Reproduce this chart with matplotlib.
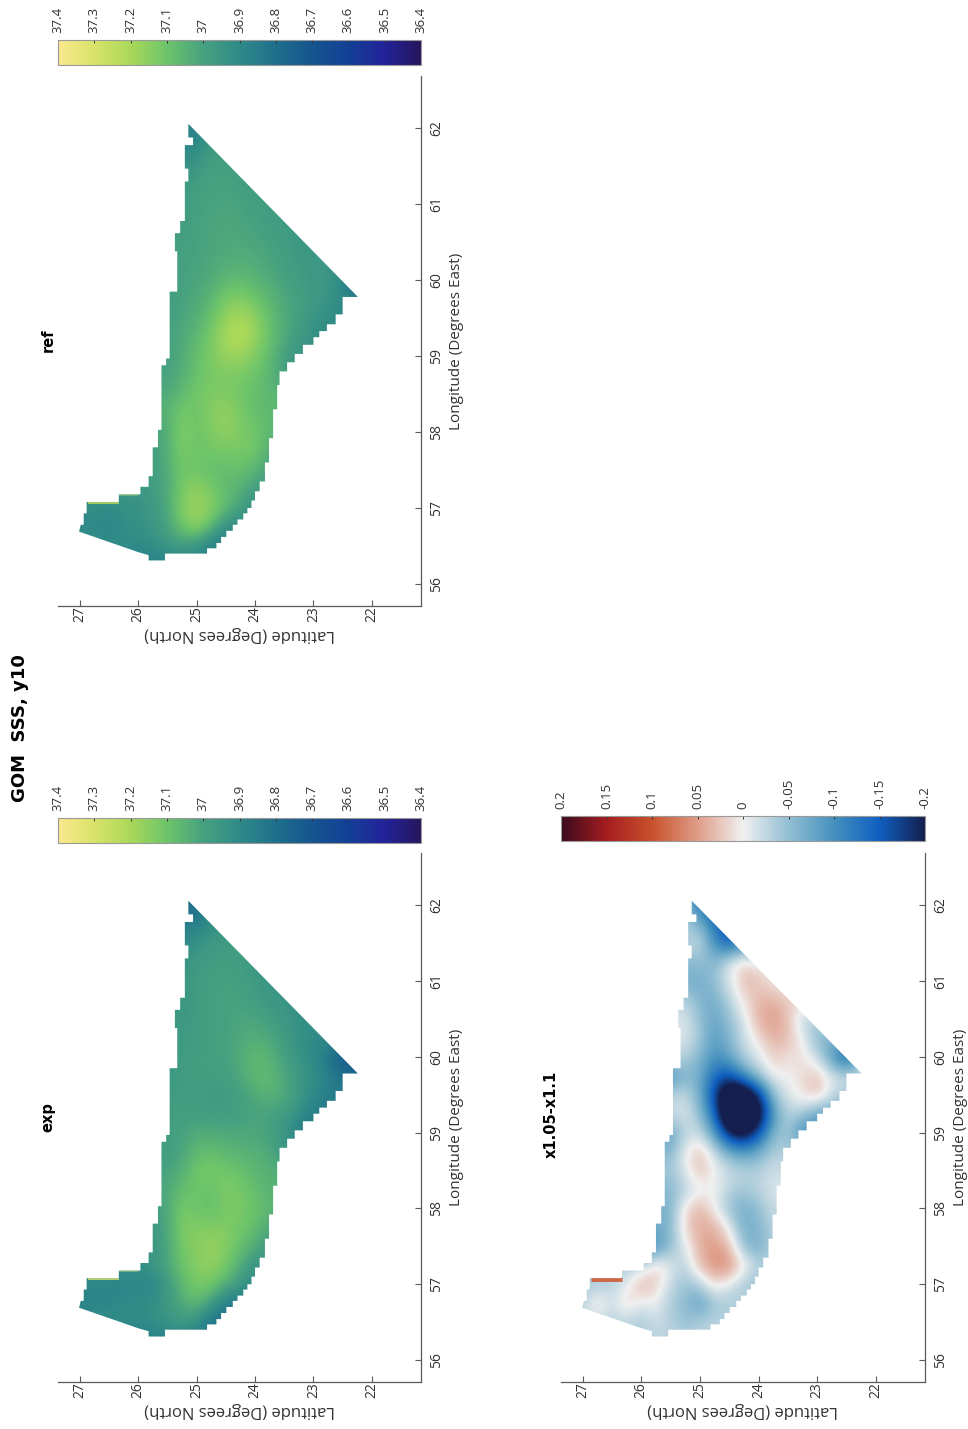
# GOM SSS maps, page is turned 90 degrees so lat runs right-to-left and lon bottom-to-top
import numpy as np
import matplotlib
matplotlib.use('Agg')
import matplotlib.pyplot as plt
from matplotlib.colors import LinearSegmentedColormap, Normalize
from matplotlib.cm import ScalarMappable
from matplotlib.patches import Polygon

W, H = 968, 1429
GRAY = '#5a5a5a'
plt.rcParams['font.family'] = ['Open Sans', 'DejaVu Sans']

lat_ticks = [27, 26, 25, 24, 23, 22]
lon_ticks = [56, 57, 58, 59, 60, 61, 62]

sss_ticks = [37.4, 37.3, 37.2, 37.1, 37.0, 36.9, 36.8, 36.7, 36.6, 36.5, 36.4]
sss_labels = ['37.4', '37.3', '37.2', '37.1', '37', '36.9', '36.8', '36.7', '36.6', '36.5', '36.4']
sss_colors = ['#fbe88e', '#d8e368', '#a9d859', '#6cc46a', '#46a180', '#2f8a88',
              '#1f6f8b', '#15558f', '#134096', '#22229a', '#27155c']

diff_ticks = [0.2, 0.15, 0.1, 0.05, 0, -0.05, -0.1, -0.15, -0.2]
diff_labels = ['0.2', '0.15', '0.1', '0.05', '0', '-0.05', '-0.1', '-0.15', '-0.2']
diff_colors = ['#3a0a1c', '#a51d20', '#c8522c', '#df9c88', '#f0f0f0', '#93bfd3',
               '#4591be', '#0f5fc0', '#141f4f']

# domain outline (lat, lon), walked from the south tip round by the north coast
edge_lat = [22.24, 22.5, 22.5, 22.62, 22.62, 22.77, 22.77, 22.9, 22.9, 23.0, 23.0, 23.18, 23.18, 23.32,
            23.32, 23.45, 23.45, 23.58, 23.58, 23.62, 23.62, 23.69, 23.69, 23.76, 23.76, 23.83, 23.83,
            23.92, 23.92, 24.0, 24.0, 24.06, 24.06, 24.13, 24.13, 24.2, 24.2, 24.3, 24.3, 24.38, 24.38,
            24.49, 24.49, 24.58, 24.58, 24.66, 24.66, 24.82, 24.82, 25.54, 25.54, 25.82, 25.82, 26.0,
            27.01, 26.98, 26.93, 26.93, 26.88, 26.88, 26.33, 26.33, 25.96, 25.96, 25.82, 25.82,
            25.75, 25.75, 25.66, 25.66, 25.6, 25.6, 25.52, 25.52, 25.46, 25.46, 25.33, 25.33,
            25.37, 25.37, 25.28, 25.28, 25.2, 25.2, 25.14, 25.14, 25.2, 25.2, 25.06, 25.06, 25.14, 25.14]
edge_lon = [59.78, 59.78, 59.55, 59.55, 59.42, 59.42, 59.33, 59.33, 59.25, 59.25, 59.15, 59.15, 59.03, 59.03,
            58.92, 58.92, 58.8, 58.8, 58.62, 58.62, 58.3, 58.3, 57.92, 57.92, 57.6, 57.6, 57.35,
            57.35, 57.22, 57.22, 57.1, 57.1, 57.0, 57.0, 56.93, 56.93, 56.85, 56.85, 56.78, 56.78, 56.7,
            56.7, 56.62, 56.62, 56.54, 56.54, 56.47, 56.47, 56.4, 56.4, 56.31, 56.31, 56.38, 56.42,
            56.69, 56.78, 56.78, 56.93, 56.93, 57.08, 57.08, 57.18, 57.18, 57.28, 57.28, 57.42,
            57.42, 57.8, 57.8, 58.03, 58.03, 58.88, 58.88, 58.97, 58.97, 59.85, 59.85, 60.38,
            60.38, 60.62, 60.62, 60.78, 60.78, 61.3, 61.3, 61.47, 61.47, 61.78, 61.78, 61.88, 61.88, 62.06]

# thin bright strip on the north side of the inlet
rim_lat = [26.86, 26.33]
rim_lon = [57.07, 57.07]
rim2_lat = [26.33, 26.0]
rim2_lon = [57.17, 57.17]

grid_lat = [27.0, 26.75, 26.5, 26.25, 26.0, 25.75, 25.5, 25.25, 25.0, 24.75,
            24.5, 24.25, 24.0, 23.75, 23.5, 23.25, 23.0, 22.75, 22.5, 22.25]
grid_lon = [62.0, 61.75, 61.5, 61.25, 61.0, 60.75, 60.5, 60.25, 60.0, 59.75, 59.5, 59.25,
            59.0, 58.75, 58.5, 58.25, 58.0, 57.75, 57.5, 57.25, 57.0, 56.75, 56.5, 56.25]
# which grid_lat column each row below starts at
row_start = [7, 7, 7, 7, 7, 7, 7, 7, 7, 6, 6, 6, 6, 6, 6, 6, 5, 5, 5, 4, 0, 0, 3, 0]

# salinity in hundredths above 36
exp_rows = [
    [82, 78, 88, 92],
    [85, 87, 92, 95],
    [90, 93, 96, 98, 97],
    [94, 97, 98, 99, 98, 96],
    [95, 98, 99, 100, 99, 97, 95],
    [95, 98, 99, 100, 100, 98, 96, 94],
    [96, 98, 99, 100, 101, 101, 99, 96, 92],
    [97, 98, 99, 100, 102, 104, 102, 98, 93, 90],
    [97, 99, 99, 100, 103, 107, 105, 100, 94, 90, 82, 72, 65],
    [96, 98, 99, 99, 99, 102, 107, 107, 102, 96, 92, 87, 80],
    [97, 98, 98, 97, 97, 99, 103, 105, 103, 97, 90, 85],
    [99, 99, 99, 98, 98, 99, 100, 100, 98, 92, 85],
    [98, 100, 103, 103, 102, 102, 102, 100, 95, 85],
    [98, 101, 107, 108, 106, 105, 104, 103, 95],
    [100, 104, 111, 112, 111, 109, 106, 104],
    [102, 108, 110, 109, 113, 112, 108, 105],
    [98, 102, 112, 110, 108, 112, 112, 110, 106],
    [96, 102, 113, 114, 113, 114, 111, 108, 102],
    [95, 101, 112, 114, 118, 114, 109, 103, 97],
    [92, 95, 101, 110, 114, 116, 112, 103, 94],
    [88, 90, 88, 88, 88, 87, 97, 106, 112, 112, 104, 97, 90],
    [86, 88, 88, 90, 91, 92, 96, 103, 108, 98, 85, 82],
    [92, 90, 92, 95, 97, 92, 80],
    [85],
]

ref_rows = [
    [88, 85, 95, 96],
    [90, 90, 97, 98],
    [92, 95, 100, 99, 99],
    [96, 99, 100, 100, 99, 98],
    [97, 100, 100, 101, 100, 99, 97],
    [98, 100, 101, 102, 101, 100, 98, 97],
    [99, 100, 101, 102, 102, 101, 100, 98, 96],
    [100, 100, 102, 103, 104, 103, 101, 99, 97, 96],
    [100, 101, 103, 106, 107, 105, 103, 100, 98, 96, 95, 90, 65],
    [98, 100, 102, 106, 112, 114, 110, 106, 102, 99, 97, 95, 90],
    [99, 101, 104, 109, 117, 120, 116, 108, 103, 99, 95, 90],
    [100, 102, 106, 112, 120, 123, 118, 109, 103, 98, 92],
    [99, 103, 108, 113, 117, 118, 113, 107, 100, 93],
    [100, 104, 109, 112, 113, 112, 110, 106, 98],
    [102, 107, 111, 113, 113, 111, 108, 106],
    [105, 112, 110, 114, 117, 112, 108, 107],
    [100, 103, 114, 110, 113, 116, 113, 111, 106],
    [98, 104, 113, 110, 111, 112, 112, 111, 104],
    [98, 103, 111, 110, 108, 108, 109, 106, 99],
    [96, 98, 102, 112, 116, 112, 107, 105, 98],
    [90, 92, 90, 93, 93, 96, 102, 114, 118, 115, 108, 100, 93],
    [88, 90, 87, 90, 93, 95, 100, 110, 117, 108, 92, 90],
    [92, 90, 92, 96, 98, 95, 85],
    [86],
]

# difference in hundredths
diff_rows = [
    [-6, -12, -16],
    [-4, -6, -13, -17],
    [-3, -2, -10, -15, -10],
    [-6, -5, -6, -1, 2, 0],
    [-7, -7, -5, -1, 3, 3, 0],
    [-3, -6, -7, -3, 1, 3, 4, 2],
    [-1, -5, -8, -5, -1, 4, 5, 3, -3],
    [-1, -4, -9, -6, -2, 1, 4, 3, 0, -6],
    [-3, -6, -10, -8, -3, -1, 2, 1, 1, -2, -9, -16, -4],
    [-10, -6, -7, -14, -16, -10, -4, 0, 0, 1, 3, -1, -2],
    [-3, -2, -7, -17, -28, -28, -19, -5, -1, 1, 3, -2, -4],
    [-2, -1, -5, -14, -30, -30, -24, -9, -3, -4, -8],
    [-8, -3, -2, -9, -20, -23, -16, -6, -4, -11],
    [-6, 0, 3, -2, -7, -9, -7, -3, -4],
    [-4, -1, 3, 0, -2, -3, -3, -2],
    [-6, -3, -1, 0, -3, -4, -3, -1],
    [-7, -6, 1, 4, 0, -5, -7, -5, -2],
    [-7, -6, 2, 4, 4, 0, -7, -6, -3],
    [-10, -5, -1, 4, 5, 3, -5, -7, -3],
    [-3, 2, -1, -3, 3, 6, 6, 1, -3],
    [-4, -4, -3, -1, 4, 2, -2, -5, -3, 1, -1, -4, -5],
    [-3, 2, -2, 2, -1, 0, -4, -5, -9, -4, -4, -3],
    [-3, -4, -2, -3, -5, -3, -3],
    [-3],
]


def to_table(rows):
    # cells outside the domain never show (they get clipped), just repeat the row ends
    table = []
    for start, row in zip(row_start, rows):
        right = len(grid_lat) - start - len(row)
        table.append([row[0]] * start + row + [row[-1]] * right)
    return np.array(table, dtype=float)


sss_cmap = LinearSegmentedColormap.from_list('sss', sss_colors[::-1])
diff_cmap = LinearSegmentedColormap.from_list('diff', diff_colors[::-1])
sss_norm = Normalize(36.4, 37.4)
diff_norm = Normalize(-0.2, 0.2)

fig = plt.figure(figsize=(W / 100, H / 100), dpi=100)


def px_axes(x0, y0, x1, y1):
    return fig.add_axes([x0 / W, 1 - y1 / H, (x1 - x0) / W, (y1 - y0) / H])


def draw_panel(box, cbar_y, field, cmap, norm, rim_val, rim_w, rim2_alpha, title, title_y, ticks, labels):
    ax = px_axes(*box)
    dlat = grid_lat[0] - grid_lat[1]
    dlon = grid_lon[0] - grid_lon[1]
    im = ax.imshow(field, cmap=cmap, norm=norm, origin='upper', aspect='auto', interpolation='bicubic',
                   extent=(grid_lat[0] + dlat / 2, grid_lat[-1] - dlat / 2,
                           grid_lon[-1] - dlon / 2, grid_lon[0] + dlon / 2))
    outline = Polygon(np.column_stack([edge_lat, edge_lon]), closed=True, transform=ax.transData, fc='none', ec='none')
    ax.add_patch(outline)
    im.set_clip_path(outline)
    l1, = ax.plot(rim_lat, rim_lon, color=cmap(norm(rim_val)), lw=rim_w, solid_capstyle='butt')
    l2, = ax.plot(rim2_lat, rim2_lon, color=cmap(norm(rim_val)), lw=rim_w, alpha=rim2_alpha, solid_capstyle='butt')
    l1.set_clip_path(outline)
    l2.set_clip_path(outline)

    ax.set_xlim(27.37, 21.16)
    ax.set_ylim(55.71, 62.69)
    ax.set_xticks(lat_ticks)
    ax.set_yticks(lon_ticks)
    ax.yaxis.tick_right()
    ax.yaxis.set_label_position('right')
    ax.spines['top'].set_visible(False)
    ax.spines['left'].set_visible(False)
    for side in ['bottom', 'right']:
        ax.spines[side].set_color(GRAY)
        ax.spines[side].set_linewidth(0.9)
    ax.tick_params(direction='in', length=4, width=0.8, color=GRAY, labelcolor='#333333', labelsize=10, pad=6)
    for t in ax.get_xticklabels() + ax.get_yticklabels():
        t.set_rotation(90)
        t.set_va('center')
    ax.set_xlabel('Latitude (Degrees North)', rotation=180, fontsize=12, color='#333333', labelpad=3)
    ax.set_ylabel('Longitude (Degrees East)', rotation=90, fontsize=11, color='#333333', labelpad=3)

    cax = px_axes(box[0], cbar_y, box[2], cbar_y + 25)
    cb = fig.colorbar(ScalarMappable(norm=norm, cmap=cmap), cax=cax, orientation='horizontal')
    cax.invert_xaxis()
    cb.set_ticks(ticks)
    cb.set_ticklabels(labels)
    cax.xaxis.tick_top()
    cax.tick_params(direction='in', length=2, width=0.7, color='#333333', labelcolor='#333333', labelsize=9.5, pad=5)
    for t in cax.get_xticklabels():
        t.set_rotation(90)
        t.set_va('bottom')
    cb.outline.set_edgecolor('#999999')
    cb.outline.set_linewidth(0.8)

    fig.text((box[0] - 10) / W, 1 - title_y / H, title, rotation=90, ha='center', va='center',
             fontsize=10.5, fontweight='bold', color='black', family='DejaVu Sans')


draw_panel((58, 853, 421, 1382), 818, 36 + to_table(exp_rows) / 100, sss_cmap, sss_norm, 37.32, 1.1, 0.5,
           'exp', 1117, sss_ticks, sss_labels)
draw_panel((58, 76, 421, 606), 40, 36 + to_table(ref_rows) / 100, sss_cmap, sss_norm, 37.25, 1.1, 0.5,
           'ref', 340, sss_ticks, sss_labels)
draw_panel((561, 853, 925, 1382), 816, to_table(diff_rows) / 100, diff_cmap, diff_norm, 0.085, 3.5, 0,
           'x1.05-x1.1', 1114, diff_ticks, diff_labels)

fig.text(20 / W, 1 - 728 / H, 'GOM  SSS, y10', rotation=90, ha='center', va='center',
         fontsize=13, fontweight='bold', color='black', family='DejaVu Sans')

fig.savefig('out.png', dpi=100)
